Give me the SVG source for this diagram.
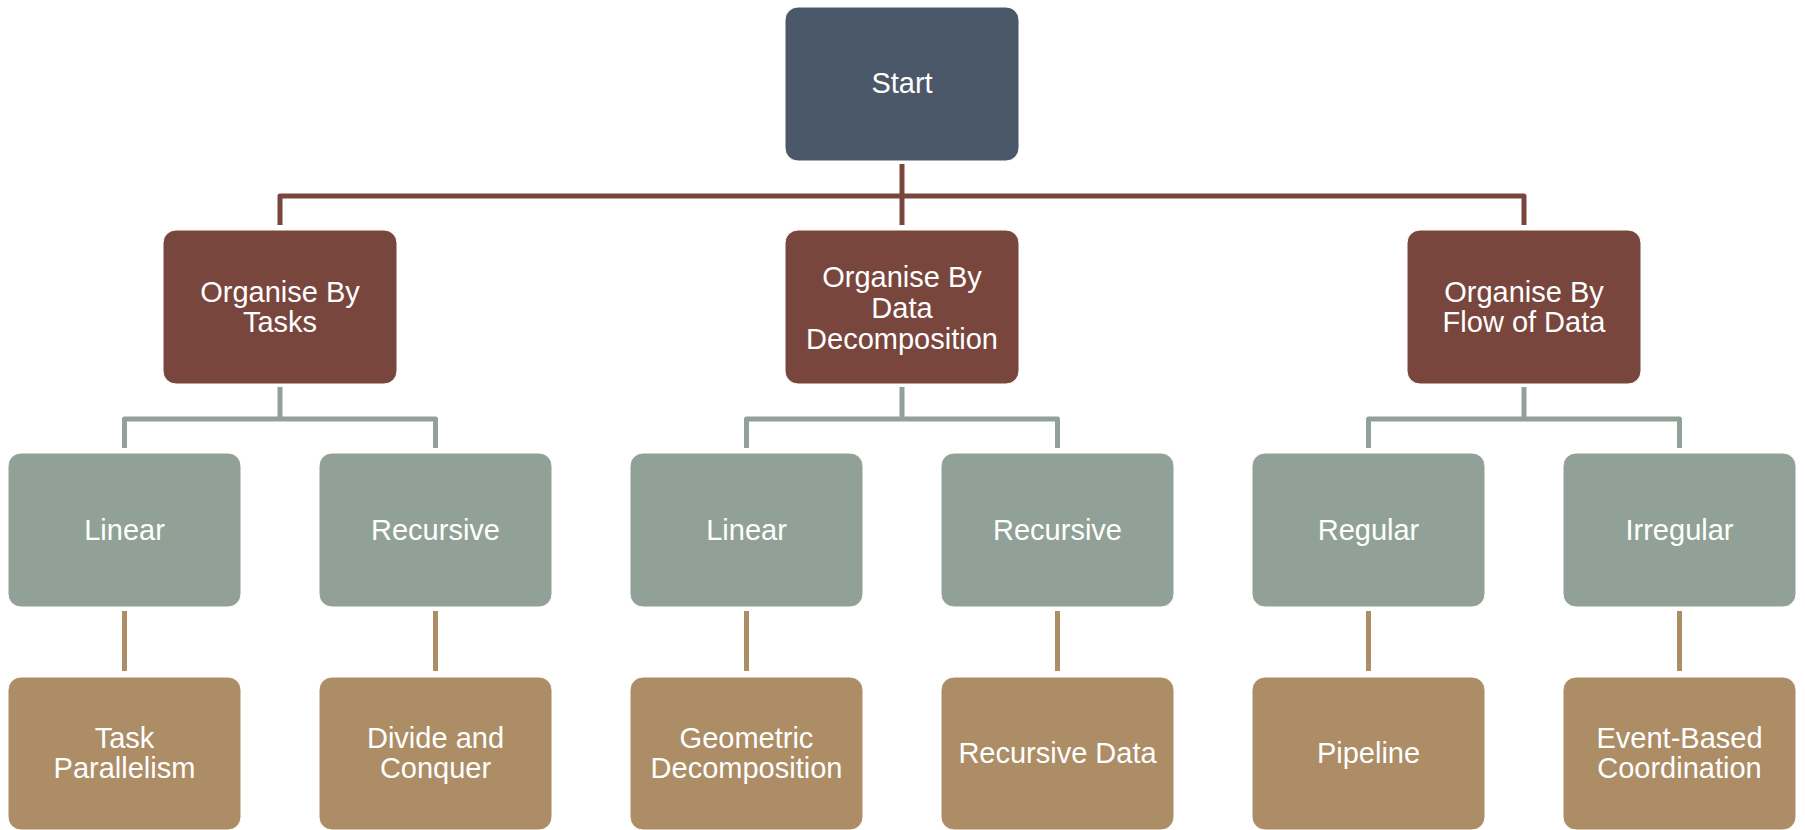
<svg xmlns="http://www.w3.org/2000/svg" width="1805" height="830" viewBox="0 0 1805 830">
<style>
.box{stroke:#ffffff;stroke-width:1}
.s{fill:#4B5869}
.b{fill:#79463D}
.g{fill:#91A197}
.t{fill:#AC8D66}
text{font-family:"Liberation Sans",Arial,sans-serif;font-size:29px;fill:#ffffff;text-anchor:middle}
.c{fill:none;stroke-width:5;stroke-linejoin:round}
.cb{stroke:#79463D}
.cg{stroke:#91A197}
.ct{stroke:#AC8D66}
</style>
<rect width="1805" height="830" fill="#ffffff"/>
<g id="connectors">
<path class="c cb" d="M902 164 V225"/>
<path class="c cb" d="M280 225 V196 H1524 V225"/>
<path class="c cg" d="M280 387 V419"/>
<path class="c cg" d="M124.5 448 V419 H435.5 V448"/>
<path class="c cg" d="M902 387 V419"/>
<path class="c cg" d="M746.5 448 V419 H1057.5 V448"/>
<path class="c cg" d="M1524 387 V419"/>
<path class="c cg" d="M1368.5 448 V419 H1679.5 V448"/>
<path class="c ct" d="M124.5 611 V671"/>
<path class="c ct" d="M435.5 611 V671"/>
<path class="c ct" d="M746.5 611 V671"/>
<path class="c ct" d="M1057.5 611 V671"/>
<path class="c ct" d="M1368.5 611 V671"/>
<path class="c ct" d="M1679.5 611 V671"/>
</g>
<g id="start"><rect class="box s" x="785" y="7" width="234" height="154" rx="13"/><text x="902" y="93">Start</text></g>
<g id="org-tasks"><rect class="box b" x="163" y="230" width="234" height="154" rx="13"/><text x="280" y="302">Organise By</text><text x="280" y="332">Tasks</text></g>
<g id="org-data"><rect class="box b" x="785" y="230" width="234" height="154" rx="13"/><text x="902" y="287">Organise By</text><text x="902" y="318">Data</text><text x="902" y="349">Decomposition</text></g>
<g id="org-flow"><rect class="box b" x="1407" y="230" width="234" height="154" rx="13"/><text x="1524" y="302">Organise By</text><text x="1524" y="332">Flow of Data</text></g>
<g id="linear1"><rect class="box g" x="8" y="453" width="233" height="154" rx="13"/><text x="124.5" y="540">Linear</text></g>
<g id="recursive1"><rect class="box g" x="319" y="453" width="233" height="154" rx="13"/><text x="435.5" y="540">Recursive</text></g>
<g id="linear2"><rect class="box g" x="630" y="453" width="233" height="154" rx="13"/><text x="746.5" y="540">Linear</text></g>
<g id="recursive2"><rect class="box g" x="941" y="453" width="233" height="154" rx="13"/><text x="1057.5" y="540">Recursive</text></g>
<g id="regular"><rect class="box g" x="1252" y="453" width="233" height="154" rx="13"/><text x="1368.5" y="540">Regular</text></g>
<g id="irregular"><rect class="box g" x="1563" y="453" width="233" height="154" rx="13"/><text x="1679.5" y="540">Irregular</text></g>
<g id="task-parallelism"><rect class="box t" x="8" y="677" width="233" height="153" rx="13"/><text x="124.5" y="748">Task</text><text x="124.5" y="778">Parallelism</text></g>
<g id="divide-conquer"><rect class="box t" x="319" y="677" width="233" height="153" rx="13"/><text x="435.5" y="748">Divide and</text><text x="435.5" y="778">Conquer</text></g>
<g id="geometric"><rect class="box t" x="630" y="677" width="233" height="153" rx="13"/><text x="746.5" y="748">Geometric</text><text x="746.5" y="778">Decomposition</text></g>
<g id="recursive-data"><rect class="box t" x="941" y="677" width="233" height="153" rx="13"/><text x="1057.5" y="763">Recursive Data</text></g>
<g id="pipeline"><rect class="box t" x="1252" y="677" width="233" height="153" rx="13"/><text x="1368.5" y="763">Pipeline</text></g>
<g id="event-based"><rect class="box t" x="1563" y="677" width="233" height="153" rx="13"/><text x="1679.5" y="748">Event-Based</text><text x="1679.5" y="778">Coordination</text></g>
</svg>
